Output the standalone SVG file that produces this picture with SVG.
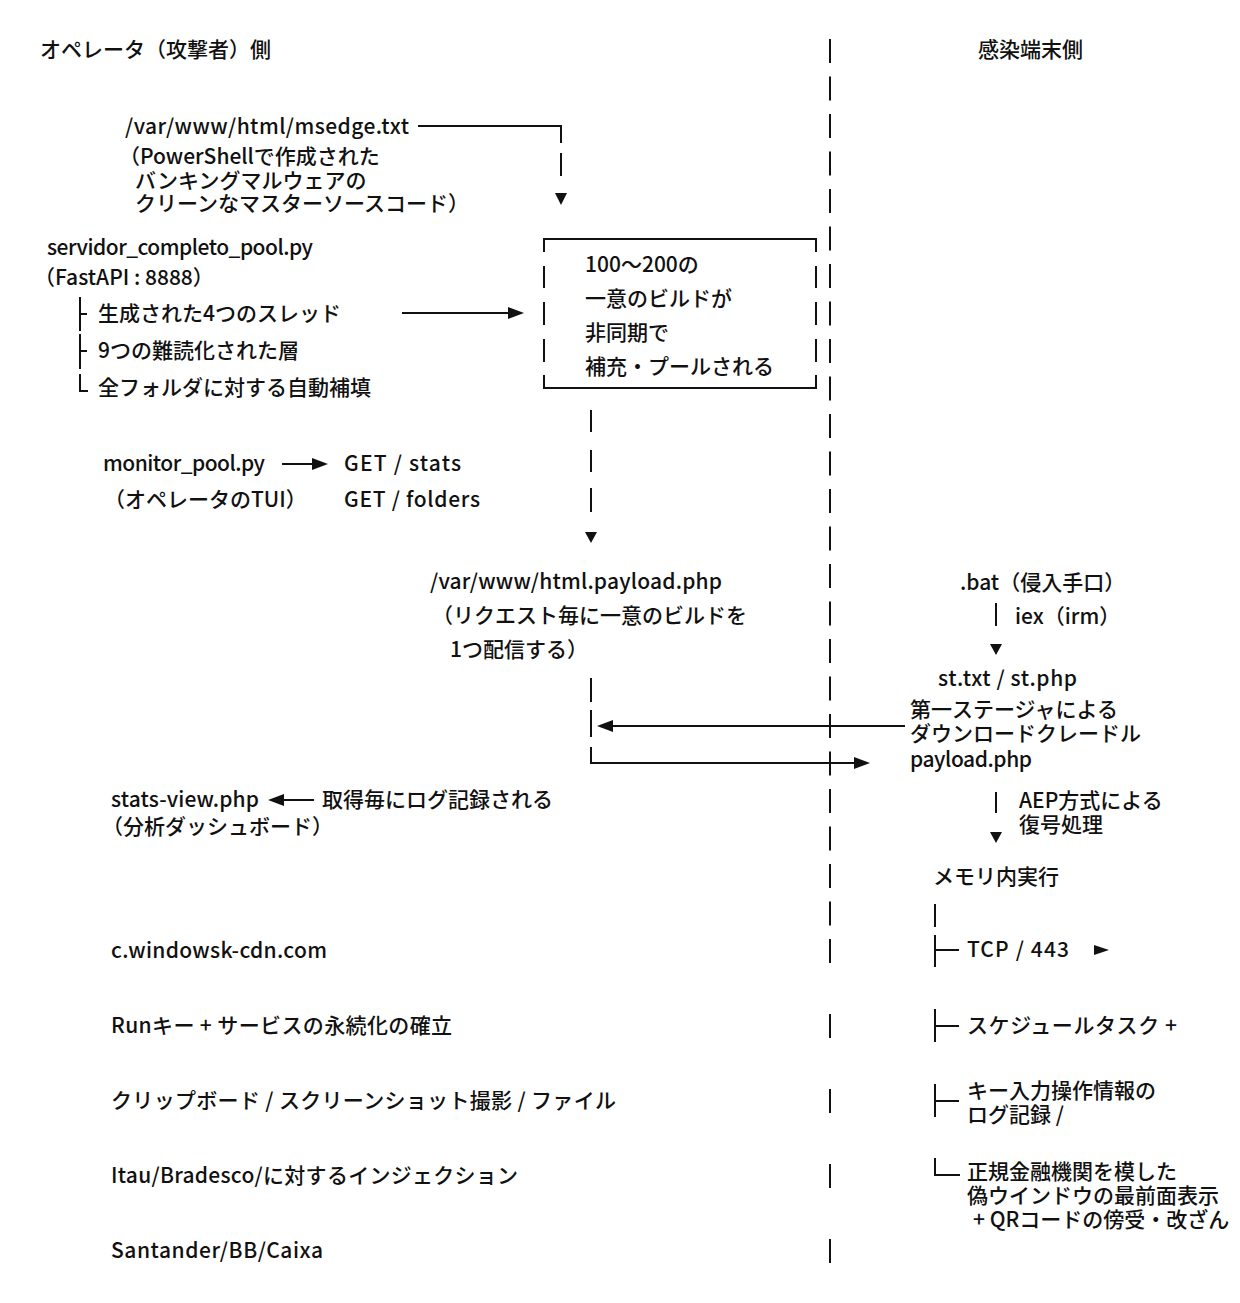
<svg xmlns="http://www.w3.org/2000/svg" width="1240" height="1303" viewBox="0 0 1240 1303">
<style>
text{font-family:"Noto Sans CJK JP","Noto Sans",sans-serif;font-size:21px;font-weight:500;fill:#111;}
.ln{stroke:#111;stroke-width:2;fill:none;}
.ah{fill:#111;stroke:none;}
</style>
<rect width="1240" height="1303" fill="#fff"/>

<g id="connectors">
  <!-- center divider -->
  <line class="ln" x1="830" y1="39" x2="830" y2="926" stroke-dasharray="24 13.5"/>
  <line class="ln" x1="830" y1="939" x2="830" y2="1264" stroke-dasharray="24 51"/>
  <!-- msedge to pool -->
  <polyline class="ln" points="418,126 561,126 561,143"/>
  <line class="ln" x1="561" y1="153" x2="561" y2="176"/>
  <polygon class="ah" points="555,193 567,193 561,205"/>
  <!-- servidor to pool -->
  <line class="ln" x1="402" y1="313" x2="512" y2="313"/>
  <polygon class="ah" points="508,307 524,313 508,319"/>
  <!-- pool to payload -->
  <line class="ln" x1="591" y1="410" x2="591" y2="432"/>
  <line class="ln" x1="591" y1="450" x2="591" y2="472"/>
  <line class="ln" x1="591" y1="488" x2="591" y2="512"/>
  <polygon class="ah" points="585,532 597,532 591,543"/>
  <!-- monitor to GET -->
  <line class="ln" x1="282" y1="464" x2="315" y2="464"/>
  <polygon class="ah" points="312,458 328,464 312,470"/>
  <!-- payload exchange -->
  <line class="ln" x1="591" y1="678" x2="591" y2="702"/>
  <line class="ln" x1="591" y1="710" x2="591" y2="737"/>
  <line class="ln" x1="610" y1="726" x2="905" y2="726"/>
  <polygon class="ah" points="613,720 597,726 613,732"/>
  <polyline class="ln" points="591,747 591,763 858,763"/>
  <polygon class="ah" points="854,757 870,763 854,769"/>
  <!-- stats-view arrow -->
  <line class="ln" x1="280" y1="800" x2="314" y2="800"/>
  <polygon class="ah" points="284,794 268,800 284,806"/>
  <!-- bat to st.txt -->
  <line class="ln" x1="996" y1="603" x2="996" y2="626"/>
  <polygon class="ah" points="990,644 1002,644 996,655"/>
  <!-- payload.php to memory -->
  <line class="ln" x1="996" y1="792" x2="996" y2="813"/>
  <polygon class="ah" points="990,832 1002,832 996,843"/>
  <!-- memory tree -->
  <line class="ln" x1="935" y1="904" x2="935" y2="927"/>
  <line class="ln" x1="935" y1="935" x2="935" y2="967"/>
  <line class="ln" x1="935" y1="950" x2="959" y2="950"/>
  <polygon class="ah" points="1094,945 1109,950 1094,955"/>
  <line class="ln" x1="935" y1="1009" x2="935" y2="1042"/>
  <line class="ln" x1="935" y1="1026" x2="959" y2="1026"/>
  <line class="ln" x1="935" y1="1084" x2="935" y2="1117"/>
  <line class="ln" x1="935" y1="1101" x2="959" y2="1101"/>
  <polyline class="ln" points="935,1158 935,1175 960,1175"/>
  <!-- servidor tree -->
  <line class="ln" x1="80" y1="297" x2="80" y2="331"/>
  <line class="ln" x1="80" y1="314" x2="87" y2="314"/>
  <line class="ln" x1="80" y1="334" x2="80" y2="369"/>
  <line class="ln" x1="80" y1="351" x2="87" y2="351"/>
  <polyline class="ln" points="80,374 80,391 88,391"/>
</g>

<g id="header-operator"><text x="40" y="57">オペレータ（攻撃者）側</text></g>
<g id="header-victim"><text x="978" y="57">感染端末側</text></g>

<g id="msedge">
  <text x="125" y="134" textLength="284">/var/www/html/msedge.txt</text>
  <text x="119" y="164">（PowerShellで作成された</text>
  <text x="135" y="188">バンキングマルウェアの</text>
  <text x="135" y="211">クリーンなマスターソースコード）</text>
</g>

<g id="servidor">
  <text x="47" y="255" textLength="266">servidor_completo_pool.py</text>
  <text x="34" y="285">（FastAPI : 8888）</text>
  <text x="98" y="321">生成された4つのスレッド</text>
  <text x="98" y="358">9つの難読化された層</text>
  <text x="98" y="395">全フォルダに対する自動補填</text>
</g>

<g id="pool">
  <polyline class="ln" points="544,252 544,239 816,239 816,252"/>
  <polyline class="ln" points="544,375 544,388 816,388 816,375"/>
  <line class="ln" x1="544" y1="266" x2="544" y2="288"/>
  <line class="ln" x1="544" y1="302" x2="544" y2="325"/>
  <line class="ln" x1="544" y1="339" x2="544" y2="362"/>
  <line class="ln" x1="816" y1="266" x2="816" y2="288"/>
  <line class="ln" x1="816" y1="302" x2="816" y2="325"/>
  <line class="ln" x1="816" y1="339" x2="816" y2="362"/>
  <text x="585" y="272">100〜200の</text>
  <text x="585" y="306">一意のビルドが</text>
  <text x="585" y="340">非同期で</text>
  <text x="585" y="374">補充・プールされる</text>
</g>

<g id="monitor">
  <text x="103" y="471" textLength="162">monitor_pool.py</text>
  <text x="104" y="507">（オペレータのTUI）</text>
</g>

<g id="get-endpoints">
  <text x="344" y="471" textLength="117">GET / stats</text>
  <text x="344" y="507" textLength="136">GET / folders</text>
</g>

<g id="payload-php">
  <text x="430" y="589" textLength="292">/var/www/html.payload.php</text>
  <text x="432" y="623">（リクエスト毎に一意のビルドを</text>
  <text x="450" y="657">1つ配信する）</text>
</g>

<g id="stats-view">
  <text x="111" y="807" textLength="148">stats-view.php</text>
  <text x="102" y="834">（分析ダッシュボード）</text>
</g>
<g id="log-label"><text x="322" y="807">取得毎にログ記録される</text></g>

<g id="c2-domain"><text x="111" y="958" textLength="216">c.windowsk-cdn.com</text></g>
<g id="persistence"><text x="111" y="1033" textLength="341">Runキー + サービスの永続化の確立</text></g>
<g id="capture"><text x="111" y="1108" textLength="505">クリップボード / スクリーンショット撮影 / ファイル</text></g>
<g id="injection"><text x="111" y="1183" textLength="407">Itau/Bradesco/に対するインジェクション</text></g>
<g id="banks"><text x="111" y="1258" textLength="212">Santander/BB/Caixa</text></g>

<g id="bat"><text x="960" y="590">.bat（侵入手口）</text></g>
<g id="iex-label"><text x="1015" y="624">iex（irm）</text></g>
<g id="st-txt">
  <text x="938" y="686" textLength="139">st.txt / st.php</text>
  <text x="910" y="717">第一ステージャによる</text>
  <text x="910" y="741">ダウンロードクレードル</text>
  <text x="910" y="767" textLength="122">payload.php</text>
</g>
<g id="aep-label">
  <text x="1019" y="808">AEP方式による</text>
  <text x="1019" y="832">復号処理</text>
</g>
<g id="memexec"><text x="933" y="884">メモリ内実行</text></g>
<g id="tcp"><text x="967" y="957" textLength="102">TCP / 443</text></g>
<g id="sched"><text x="967" y="1033" textLength="210">スケジュールタスク +</text></g>
<g id="keylog">
  <text x="967" y="1098">キー入力操作情報の</text>
  <text x="967" y="1122">ログ記録 /</text>
</g>
<g id="overlay">
  <text x="967" y="1179">正規金融機関を模した</text>
  <text x="967" y="1203">偽ウインドウの最前面表示</text>
  <text x="973" y="1227">+ QRコードの傍受・改ざん</text>
</g>
</svg>
